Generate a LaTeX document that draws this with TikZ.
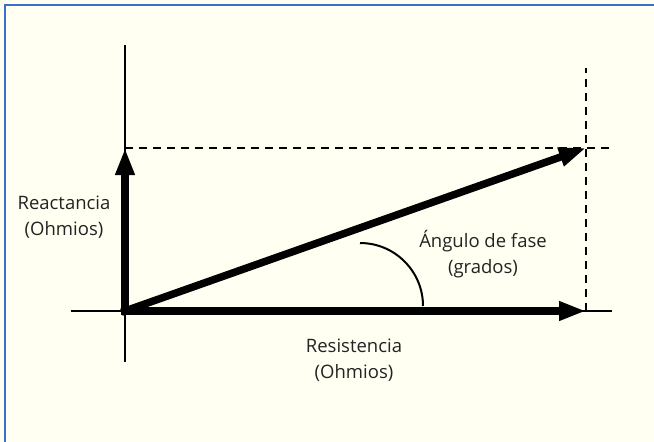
\documentclass[tikz,border=0pt]{standalone}
\usepackage{fontspec}
\setmainfont{Open Sans}
\usetikzlibrary{arrows.meta}
\definecolor{paper}{RGB}{255,255,242}
\definecolor{frameblue}{RGB}{58,110,200}
\definecolor{ink}{RGB}{35,35,35}

\begin{document}
\begin{tikzpicture}[x=1pt, y=-1pt, font=\fontsize{18.5}{26}\selectfont,
  axis/.style={line width=2pt},
  vec/.style={line width=7.5pt, line cap=rect, -{Triangle[length=27pt, width=18pt]}},
  guide/.style={line width=2pt, dash pattern=on 8pt off 6pt},
  lbl/.style={align=center, text=ink}]
  \fill[paper] (0,0) rectangle (654,442);
  \useasboundingbox (0,0) rectangle (654,442);
  \draw[frameblue, line width=2pt] (5,460) -- (5,5) -- (670,5);
  % points of the diagram
  \coordinate (O) at (125,311);
  \coordinate (Rtip) at (586,311);
  \coordinate (Xtip) at (586,148);
  \coordinate (Ytip) at (125,148);
  \coordinate (ylo) at (125,362);
  \coordinate (yhi) at (125,45);
  \coordinate (xlo) at (71,311);
  \coordinate (xhi) at (612,311);
  \coordinate (dxhi) at (612,148);
  \coordinate (dyhi) at (586,68);
  \coordinate (arcstart) at (360,243);
  % axes and guides
  \draw[axis] (ylo) -- (yhi);
  \draw[axis] (xlo) -- (xhi);
  \draw[guide] (Ytip) -- (dxhi);
  \draw[guide] (Rtip) -- (dyhi);
  % vectors
  \draw[vec] (O) -- (Ytip);
  \draw[vec] (O) -- (Rtip);
  \draw[vec] (O) -- (Xtip);
  \draw[axis] (arcstart) arc[start angle=-90, end angle=0, radius=63];
  % labels
  \node[lbl] (react) at (64,217) {Reactancia\\(Ohmios)};
  \node[lbl] (resist) at (354,360) {Resistencia\\(Ohmios)};
  \node[lbl] (fase) at (483,254) {Ángulo de fase\\(grados)};
\end{tikzpicture}
\end{document}
